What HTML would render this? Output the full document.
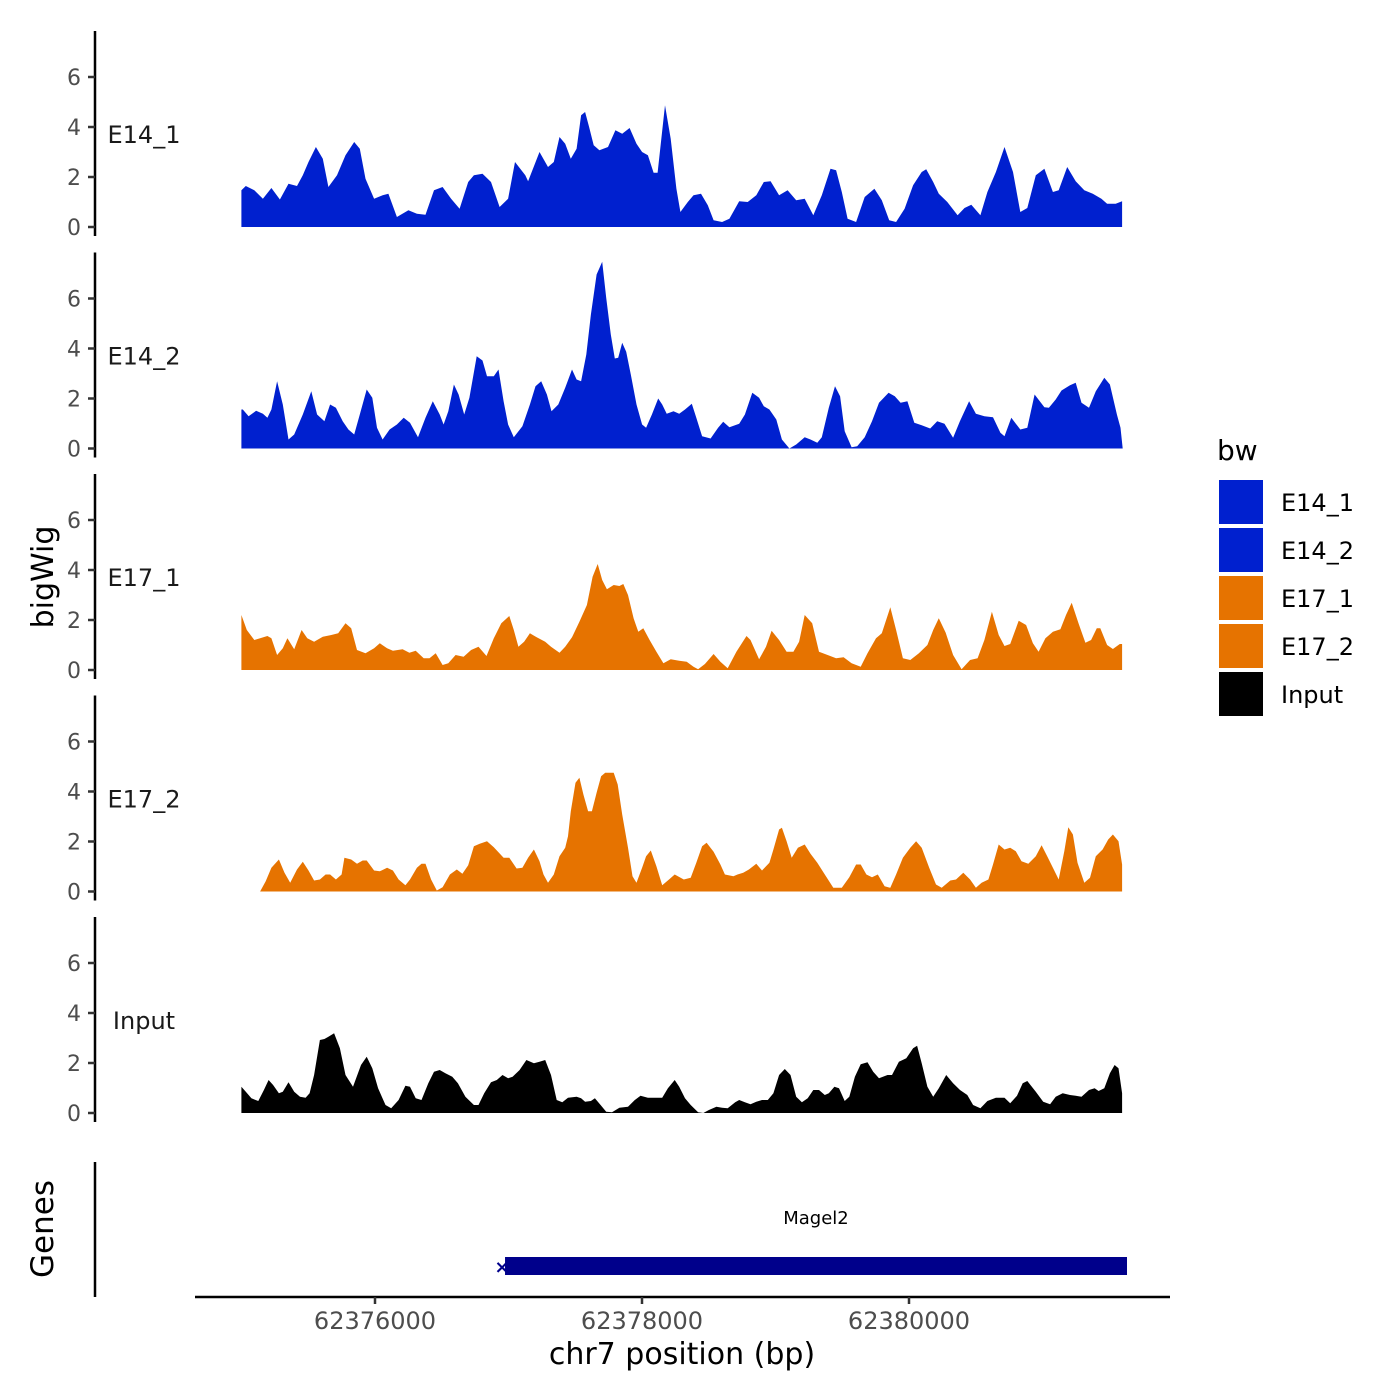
<!DOCTYPE html>
<html><head><meta charset="utf-8"><style>
html,body{margin:0;padding:0;background:#fff;}
svg{display:block;font-family:"DejaVu Sans","Liberation Sans",sans-serif;}
</style></head><body>
<svg id="chart" width="1400" height="1400" viewBox="0 0 1400 1400" xmlns="http://www.w3.org/2000/svg">
<text x="0" y="0" transform="translate(53,577) rotate(-90)" text-anchor="middle" font-size="30" fill="#000">bigWig</text>
<text x="0" y="0" transform="translate(53,1229) rotate(-90)" text-anchor="middle" font-size="31" fill="#000">Genes</text>
<text x="682" y="1364" text-anchor="middle" font-size="30" fill="#000">chr7 position (bp)</text>
<text x="1217" y="460" font-size="28" fill="#000">bw</text>
<g id="panels"></g>
<g id="genes"></g>
<g id="xaxis"></g>
<g id="legend"></g>
</svg>
<script>
// ---- data ----
const regionStart = 62374989;   // bp, offsets below are relative to this
const trackNames = ["E14_1","E14_2","E17_1","E17_2","Input"];
const trackColors = ["#0020CF","#0020CF","#E67300","#E67300","#000000"];
const yTicks = [0,2,4,6];
const xTicks = [62376000,62378000,62380000];
const xTickLabels = ["62376000","62378000","62380000"];

const e14_1_pos = [10,43,107,171,235,299,363,427,470,513,568,620,662,726,790,855,897,940,1004,1068,1111,1175,1261,1325,1389,1453,1517,1581,1645,1709,1752,1816,1880,1944,2008,2060,2137,2158,2243,2307,2350,2393,2436,2478,2521,2555,2585,2615,2649,2692,2756,2812,2863,2918,2970,3012,3055,3098,3128,3183,3226,3269,3299,3354,3397,3453,3504,3547,3611,3666,3739,3803,3867,3923,3974,4038,4102,4166,4230,4294,4358,4423,4465,4508,4551,4615,4679,4752,4807,4863,4914,4978,5042,5106,5140,5192,5234,5298,5375,5427,5478,5546,5598,5662,5726,5790,5845,5897,5961,6025,6089,6132,6196,6260,6324,6388,6452,6495,6559,6607];
const e14_1_val = [1.47,1.64,1.47,1.13,1.56,1.1,1.73,1.64,2.07,2.6,3.2,2.73,1.6,2.07,2.87,3.4,3.13,1.93,1.13,1.27,1.33,0.4,0.67,0.53,0.49,1.47,1.6,1.13,0.73,1.8,2.07,2.13,1.8,0.8,1.13,2.6,2.07,1.83,3.0,2.4,2.6,3.6,3.33,2.73,3.13,4.47,4.6,4.0,3.27,3.07,3.2,3.87,3.73,3.96,3.33,3.0,2.87,2.17,2.17,4.87,3.53,1.53,0.6,1.0,1.27,1.33,0.87,0.27,0.2,0.33,1.03,1.0,1.27,1.8,1.83,1.27,1.47,1.07,1.13,0.47,1.27,2.33,2.27,1.4,0.33,0.2,1.2,1.53,1.07,0.27,0.2,0.73,1.67,2.2,2.31,1.8,1.33,1.0,0.47,0.76,0.89,0.47,1.4,2.2,3.2,2.2,0.6,0.76,2.07,2.33,1.4,1.47,2.4,1.83,1.47,1.33,1.13,0.93,0.93,1.03];

const e14_2_pos = [10,21,64,120,171,205,235,278,320,363,406,470,534,577,632,675,718,769,812,855,897,949,991,1026,1068,1120,1175,1226,1273,1333,1389,1444,1496,1525,1560,1602,1637,1679,1718,1773,1816,1850,1901,1936,1974,2008,2051,2115,2171,2213,2256,2299,2333,2384,2436,2487,2521,2555,2594,2628,2671,2713,2743,2777,2807,2833,2863,2893,2927,2970,3012,3042,3085,3132,3162,3196,3247,3290,3333,3384,3418,3461,3525,3581,3619,3666,3739,3782,3837,3888,3923,3965,4017,4059,4115,4166,4230,4273,4324,4358,4410,4457,4495,4529,4581,4623,4679,4734,4786,4858,4905,4948,4999,5051,5106,5170,5222,5277,5341,5392,5461,5512,5576,5640,5696,5726,5777,5845,5897,5952,6025,6059,6110,6153,6217,6260,6303,6359,6410,6474,6516,6568,6595,6612];
const e14_2_val = [1.56,1.56,1.29,1.51,1.39,1.23,1.56,2.69,1.76,0.36,0.56,1.36,2.29,1.36,1.09,1.76,1.63,1.09,0.76,0.56,1.36,2.36,2.03,0.83,0.36,0.76,0.96,1.23,1.03,0.45,1.23,1.89,1.36,0.96,1.49,2.56,2.16,1.36,2.03,3.69,3.52,2.89,2.89,3.16,1.89,0.96,0.45,0.89,1.76,2.49,2.69,2.16,1.49,1.76,2.43,3.16,2.76,2.69,3.76,5.36,6.96,7.47,6.03,4.56,3.6,3.63,4.23,3.87,2.96,1.76,0.96,0.83,1.36,2.0,1.76,1.39,1.49,1.39,1.56,1.79,1.23,0.49,0.4,0.83,1.07,0.85,0.99,1.36,2.23,2.03,1.69,1.56,1.16,0.36,0,0.16,0.45,0.36,0.23,0.45,1.63,2.49,2.09,0.69,0.05,0.09,0.45,1.09,1.83,2.23,2.09,1.83,1.89,1.03,0.93,0.8,1.09,0.99,0.43,1.09,1.89,1.39,1.29,1.25,0.63,0.49,1.23,0.76,0.83,2.16,1.65,1.63,1.96,2.32,2.53,2.63,1.83,1.63,2.29,2.83,2.56,1.36,0.83,0];

const e17_1_pos = [10,51,107,150,205,235,278,320,355,406,461,504,555,620,684,735,790,833,876,940,1004,1047,1102,1145,1218,1269,1316,1376,1419,1466,1517,1560,1615,1675,1731,1786,1846,1901,1957,2017,2051,2085,2128,2171,2222,2286,2329,2393,2436,2487,2542,2598,2641,2679,2713,2748,2799,2842,2871,2906,2948,2983,3021,3068,3119,3171,3226,3290,3346,3397,3431,3482,3547,3598,3653,3718,3794,3824,3888,3940,3982,4038,4094,4145,4188,4230,4286,4337,4401,4465,4521,4581,4649,4700,4764,4807,4871,4914,4965,5021,5085,5149,5192,5234,5286,5341,5405,5469,5525,5576,5632,5683,5726,5769,5833,5888,5939,5982,6033,6089,6145,6187,6230,6281,6332,6375,6418,6444,6495,6538,6590,6607];
const e17_1_val = [2.2,1.6,1.2,1.27,1.36,1.27,0.6,0.87,1.27,0.83,1.6,1.27,1.13,1.33,1.4,1.47,1.87,1.67,0.8,0.67,0.87,1.07,0.87,0.77,0.83,0.69,0.77,0.47,0.47,0.67,0.2,0.27,0.6,0.53,0.8,0.93,0.56,1.27,1.87,2.16,1.6,0.93,1.13,1.47,1.31,1.13,0.93,0.69,0.93,1.31,1.93,2.6,3.73,4.24,3.6,3.23,3.4,3.36,3.44,3.0,2.07,1.53,1.67,1.2,0.73,0.27,0.43,0.37,0.33,0.13,0.03,0.24,0.64,0.33,0.07,0.73,1.36,1.2,0.43,0.93,1.57,1.2,0.73,0.73,1.13,2.2,1.87,0.73,0.6,0.47,0.51,0.27,0.13,0.67,1.27,1.47,2.51,1.6,0.47,0.4,0.67,1.0,1.6,2.07,1.49,0.6,0.03,0.4,0.47,1.2,2.33,1.4,0.96,1.04,1.97,1.8,1.07,0.73,1.27,1.53,1.63,2.2,2.69,1.87,1.09,1.2,1.67,1.67,1.0,0.84,1.04,1.04];

const e17_2_pos = [150,192,235,291,333,376,427,470,513,555,598,641,675,718,761,782,833,876,919,949,1004,1047,1102,1145,1188,1239,1273,1325,1359,1389,1431,1474,1517,1572,1624,1666,1709,1752,1795,1850,1901,1974,2017,2072,2115,2158,2201,2243,2273,2307,2350,2393,2436,2457,2478,2513,2542,2572,2607,2636,2671,2705,2735,2799,2829,2863,2906,2940,2970,3012,3042,3077,3119,3162,3213,3256,3324,3376,3418,3461,3495,3547,3598,3632,3696,3726,3769,3812,3867,3910,3965,3995,4038,4059,4094,4132,4179,4230,4273,4324,4380,4444,4508,4564,4615,4649,4692,4734,4777,4828,4871,4914,4965,5021,5064,5106,5162,5213,5256,5320,5363,5418,5469,5512,5555,5606,5640,5683,5726,5769,5811,5854,5905,5961,6004,6046,6089,6132,6174,6204,6239,6273,6324,6367,6410,6461,6503,6538,6580,6607];
const e17_2_val = [0,0.41,0.95,1.28,0.75,0.35,0.88,1.19,0.84,0.44,0.48,0.68,0.68,0.48,0.68,1.35,1.28,1.11,1.24,1.24,0.84,0.81,0.95,0.84,0.48,0.25,0.48,0.95,1.11,1.11,0.48,0.04,0.17,0.68,0.88,0.71,1.05,1.81,1.91,2.01,1.77,1.35,1.35,0.92,0.95,1.35,1.68,1.21,0.68,0.35,0.68,1.41,1.75,2.21,3.21,4.35,4.55,3.88,3.21,3.21,3.95,4.61,4.75,4.75,4.28,3.08,1.75,0.61,0.35,0.95,1.41,1.64,1.01,0.25,0.48,0.68,0.48,0.55,1.15,1.81,1.95,1.59,1.08,0.68,0.61,0.68,0.75,0.88,1.11,0.84,1.15,1.68,2.48,2.55,2.01,1.35,1.75,1.88,1.51,1.15,0.68,0.15,0.15,0.57,1.08,1.08,0.68,0.57,0.68,0.21,0.15,0.68,1.35,1.75,2.01,1.75,0.95,0.28,0.15,0.44,0.48,0.75,0.48,0.15,0.35,0.48,1.08,1.88,1.68,1.75,1.61,1.21,1.11,1.41,1.85,1.41,0.95,0.48,1.61,2.57,2.28,1.15,0.35,0.55,1.41,1.68,2.08,2.28,2.01,1.08];

const input_pos = [10,43,85,137,179,214,248,291,320,363,406,449,491,521,555,598,632,662,705,748,790,846,906,949,991,1034,1090,1132,1188,1239,1273,1316,1359,1410,1453,1496,1538,1590,1632,1688,1752,1786,1829,1880,1923,1966,2008,2042,2094,2145,2201,2243,2286,2329,2372,2414,2457,2521,2555,2585,2628,2658,2701,2743,2786,2842,2906,2957,3000,3055,3111,3162,3205,3256,3290,3333,3376,3431,3470,3512,3568,3611,3653,3709,3739,3782,3824,3867,3910,3953,3995,4038,4081,4123,4166,4209,4252,4294,4337,4380,4410,4452,4487,4529,4564,4606,4649,4700,4743,4786,4850,4884,4935,4991,5042,5072,5106,5149,5192,5234,5290,5341,5393,5448,5491,5546,5598,5662,5726,5769,5820,5863,5897,5961,6016,6068,6110,6162,6217,6260,6303,6359,6401,6431,6474,6516,6551,6580,6607];
const input_val = [1.05,0.85,0.59,0.48,0.92,1.32,1.12,0.79,0.85,1.23,0.85,0.65,0.61,0.79,1.52,2.92,2.96,3.05,3.19,2.59,1.52,1.05,1.92,2.25,1.79,0.99,0.32,0.19,0.52,1.09,1.05,0.59,0.52,1.19,1.65,1.72,1.59,1.45,1.19,0.65,0.32,0.32,0.79,1.23,1.32,1.52,1.39,1.45,1.72,2.12,1.99,2.05,2.12,1.52,0.52,0.43,0.61,0.65,0.59,0.45,0.48,0.59,0.32,0.05,0.03,0.21,0.25,0.52,0.69,0.61,0.61,0.61,0.99,1.32,1.05,0.59,0.32,0.03,0,0.12,0.25,0.21,0.19,0.43,0.52,0.43,0.35,0.45,0.52,0.52,0.79,1.52,1.76,1.52,0.65,0.43,0.59,0.92,0.92,0.72,0.79,1.05,0.99,0.48,0.65,1.45,1.95,2.03,1.65,1.39,1.52,1.52,2.05,2.19,2.59,2.69,1.99,1.05,0.65,0.99,1.52,1.19,0.92,0.72,0.32,0.19,0.48,0.61,0.61,0.39,0.69,1.19,1.28,0.85,0.45,0.35,0.65,0.79,0.72,0.69,0.65,0.92,0.99,0.88,0.99,1.59,1.92,1.79,0.79];

const trackPos = [e14_1_pos,e14_2_pos,e17_1_pos,e17_2_pos,input_pos];
const trackVal = [e14_1_val,e14_2_val,e17_1_val,e17_2_val,input_val];

const geneName = "Magel2";
const geneStart = 62376974;
const geneEnd = 62381633;

// ---- scales ----
const NS = "http://www.w3.org/2000/svg";
function xScale(bp){ return 375 + (bp - 62376000) * (267/2000); }
const panelStride = 221.5;
function baseline(i){ return 227 + i*panelStride; }
function yScale(i, v){ return baseline(i) - v*25; }
function mk(tag, attrs, parent){
  const el = document.createElementNS(NS, tag);
  for (const k in attrs) el.setAttribute(k, attrs[k]);
  parent.appendChild(el);
  return el;
}

const panels = document.getElementById('panels');
trackNames.forEach((name, i) => {
  const g = mk('g', {}, panels);
  
  
  const top = 31 + i*panelStride;
  const axis = mk('line', {x1:95, x2:95, y1:top, y2:top+205, stroke:'#000', 'stroke-width':2.5}, g);
  
  
  yTicks.forEach(t => {
    const y = yScale(i, t);
    const tk = mk('line', {x1:88, x2:95, y1:y, y2:y, stroke:'#333', 'stroke-width':2.5}, g);
    
    
    const tl = mk('text', {x:81, y:y+8, 'text-anchor':'end', 'font-size':22, fill:'#4d4d4d'}, g);
    tl.textContent = String(t);
    
    
  });
  const lab = mk('text', {x:144, y:baseline(i)-84, 'text-anchor':'middle', 'font-size':24, fill:'#1a1a1a'}, g);
  lab.textContent = name;
  
  
  const pos = trackPos[i], val = trackVal[i];
  let d = 'M' + xScale(regionStart+pos[0]).toFixed(1) + ',' + baseline(i);
  for (let k=0;k<pos.length;k++) d += 'L' + xScale(regionStart+pos[k]).toFixed(1) + ',' + yScale(i, val[k]).toFixed(1);
  d += 'L' + xScale(regionStart+pos[pos.length-1]).toFixed(1) + ',' + baseline(i) + 'Z';
  const area = mk('path', {d:d, fill:trackColors[i]}, g);
  
  
});

// genes track
const genes = document.getElementById('genes');
const gAxis = mk('line', {x1:95, x2:95, y1:1162, y2:1297, stroke:'#000', 'stroke-width':2.5}, genes);


const gx1 = xScale(geneStart), gx2 = xScale(geneEnd);
const bar = mk('rect', {x:gx1, y:1257, width:gx2-gx1, height:18, fill:'#00008B'}, genes);


const arrowL = mk('text', {x:gx1-3, y:1273, 'text-anchor':'middle', 'font-size':18, 'font-weight':'bold', fill:'#00008B'}, genes);
arrowL.textContent = '×';


const gl = mk('text', {x:(gx1+gx2)/2, y:1224, 'text-anchor':'middle', 'font-size':18, fill:'#000'}, genes);
gl.textContent = geneName;



// x axis
const xa = document.getElementById('xaxis');
const xl = mk('line', {x1:195, x2:1170, y1:1297, y2:1297, stroke:'#000', 'stroke-width':2.5}, xa);


xTicks.forEach((t, k) => {
  const x = xScale(t);
  const tk = mk('line', {x1:x, x2:x, y1:1297, y2:1304, stroke:'#333', 'stroke-width':2.5}, xa);
  
  
  const tl = mk('text', {x:x, y:1329, 'text-anchor':'middle', 'font-size':24, fill:'#4d4d4d'}, xa);
  tl.textContent = xTickLabels[k];
  
  
});

// legend
const lg = document.getElementById('legend');
trackNames.forEach((name, i) => {
  const g = mk('g', {}, lg);
  
  
  const y = 480 + i*48;
  mk('rect', {x:1219, y:y, width:44, height:44, fill:trackColors[i]}, g);
  const t = mk('text', {x:1281, y:y+31, 'font-size':24, fill:'#000'}, g);
  t.textContent = name;
});
</script>
</body></html>
